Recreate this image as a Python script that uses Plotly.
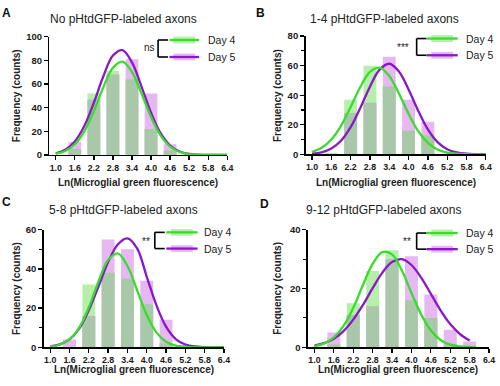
import plotly.graph_objects as go

# ---------------- data ----------------
bins = [1.0, 1.6, 2.2, 2.8, 3.4, 4.0, 4.6, 5.2, 5.8]
tick_vals = [1.0, 1.6, 2.2, 2.8, 3.4, 4.0, 4.6, 5.2, 5.8, 6.4]

A_day4 = [0, 5, 52, 71, 64, 22, 4, 0, 0]
A_day5 = [0, 11, 47, 68, 81, 52, 9, 1, 0]
B_day4 = [0, 1, 37, 60, 46, 16, 13, 0, 0]
B_day5 = [0, 0, 28, 35, 66, 37, 22, 0, 0]
C_day4 = [0, 0, 32, 38, 35, 22, 2, 0, 0]
C_day5 = [0, 4, 16, 55, 50, 34, 14, 1, 0]
D_day4 = [0, 1, 15, 26, 33, 16, 10, 1, 0]
D_day5 = [0, 5, 11, 14, 30, 31, 18, 6, 2]

fit_x = [1.0, 1.3, 1.6, 1.9, 2.2, 2.5, 2.8, 3.1, 3.4, 3.7,
         4.0, 4.3, 4.6, 4.9, 5.2, 5.5, 5.8, 6.1, 6.4]
fit_x_D4 = [1.0, 1.3, 1.6, 1.9, 2.2, 2.5, 2.8, 3.1, 3.4, 3.7,
            4.0, 4.3, 4.6, 4.9, 5.2, 5.5, 5.8, 6.0]
fit_x_D5 = [1.0, 1.3, 1.6, 1.9, 2.2, 2.5, 2.8, 3.1, 3.4, 3.7,
            4.0, 4.3, 4.6, 4.9, 5.2, 5.5, 5.8]

A_fit4 = [1.0, 3.4, 9.0, 20.0, 37.1, 57.4, 73.7, 78.9, 70.2, 52.0,
          32.1, 16.5, 7.0, 2.5, 0.7, 0.2, 0.0, 0.0, 0.0]
A_fit5 = [1.4, 4.4, 11.4, 24.5, 44.2, 66.6, 84.1, 88.7, 78.3, 57.8,
          35.7, 18.4, 8.0, 2.9, 0.9, 0.2, 0.0, 0.0, 0.0]
B_fit4 = [1.7, 4.4, 10.0, 19.3, 32.0, 45.6, 55.8, 58.7, 53.0, 41.2,
          27.5, 15.7, 7.8, 3.3, 1.2, 0.4, 0.1, 0.0, 0.0]
B_fit5 = [0.5, 1.4, 3.9, 9.2, 18.4, 31.4, 45.8, 57.3, 61.3, 56.1,
          43.9, 29.5, 16.9, 8.3, 3.5, 1.3, 0.4, 0.1, 0.0]
C_fit4 = [0.3, 1.3, 4.0, 10.0, 20.4, 33.6, 44.6, 47.9, 41.5, 29.1,
          16.5, 7.6, 2.8, 0.8, 0.2, 0.0, 0.0, 0.0, 0.0]
C_fit5 = [0.5, 1.5, 4.0, 9.5, 19.0, 31.0, 43.5, 52.5, 55.6, 50.5,
          36.0, 21.5, 10.5, 4.2, 1.4, 0.4, 0.1, 0.0, 0.0]
D_fit4 = [0.4, 1.3, 3.4, 7.3, 13.4, 21.2, 28.4, 32.4, 31.6, 26.2,
          18.5, 11.2, 5.7, 2.5, 0.9, 0.3, 0.1, 0.0]
D_fit5 = [0.6, 1.4, 2.9, 5.5, 9.4, 14.4, 20.1, 25.4, 29.0, 30.0,
          28.0, 23.7, 18.2, 12.6, 7.9, 4.5, 2.3]

titles = ["No pHtdGFP-labeled axons", "1-4 pHtdGFP-labeled axons",
          "5-8 pHtdGFP-labeled axons", "9-12 pHtdGFP-labeled axons"]
letters = ["A", "B", "C", "D"]
sig_labels = ["ns", "***", "**", "**"]
series_names = ["Day 4", "Day 5"]
x_title = "Ln(Microglial green fluorescence)"
y_title = "Frequency (counts)"

# ---------------- styles ----------------
W, H = 500, 386
FONT = "Liberation Sans, Arial, sans-serif"
GREEN_BAR = "#b5efa9"
PINK_BAR = "#e6b7f1"
OVERLAP = "#a9c8aa"
GREEN_LINE = "#36de2a"
PURPLE_LINE = "#8a18c8"


def px(x):
    return x / W


def py(y):
    return 1 - y / H


panels = [
    dict(d4=A_day4, d5=A_day5, f4=A_fit4, f5=A_fit5, fx4=fit_x, fx5=fit_x, ymax=100, minor=False,
         xdom=(50, 230), ydom=(153.3, 31.7), title=(125, 13.5), letter=(7, 7.5),
         xt=(140, 181.5), yt=(17.5, 92.5),
         br_x=160, br_y=(35, 52.5), sig=(151, 42.5), ln=(171.5, 201.5), txt=208),
    dict(d4=B_day4, d5=B_day5, f4=B_fit4, f5=B_fit5, fx4=fit_x, fx5=fit_x, ymax=80, minor=True,
         xdom=(309.3, 491.7), ydom=(152.7, 31), title=(389, 13.5), letter=(264, 7.5),
         xt=(400.5, 181.5), yt=(281.5, 92.5),
         br_x=421.7, br_y=(33.5, 50.7), sig=(408.3, 43), ln=(431.7, 463.3), txt=469.3),
    dict(d4=C_day4, d5=C_day5, f4=C_fit4, f5=C_fit5, fx4=fit_x, fx5=fit_x, ymax=60, minor=True,
         xdom=(44.3, 226.7), ydom=(351.3, 230.3), title=(125, 209.5), letter=(6.5, 202),
         xt=(136, 374.5), yt=(16.5, 291),
         br_x=156.7, br_y=(233, 249.7), sig=(147.7, 242), ln=(168.3, 200), txt=204),
    dict(d4=D_day4, d5=D_day5, f4=D_fit4, f5=D_fit5, fx4=fit_x_D4, fx5=fit_x_D5, ymax=40, minor=True,
         xdom=(311.7, 495), ydom=(351.3, 230.3), title=(388, 209.5), letter=(267.5, 203.5),
         xt=(402.5, 374.5), yt=(281.5, 291),
         br_x=421.7, br_y=(233.7, 250.3), sig=(412.3, 242.5), ln=(431.7, 463.3), txt=469.3),
]

fig = go.Figure()
annotations = []
shapes = []
layout_axes = {}

for i, p in enumerate(panels):
    n = "" if i == 0 else str(i + 1)
    xa, ya = "x" + n, "y" + n
    overlap = [min(a, b) for a, b in zip(p["d4"], p["d5"])]
    for vals, col in ((p["d4"], GREEN_BAR), (p["d5"], PINK_BAR), (overlap, OVERLAP)):
        fig.add_trace(go.Bar(x=bins, y=vals, width=0.4, marker=dict(color=col, line=dict(width=0)),
                             xaxis=xa, yaxis=ya, showlegend=False, hoverinfo="skip"))
    fig.add_trace(go.Scatter(x=p["fx5"], y=p["f5"], mode="lines",
                             line=dict(color=PURPLE_LINE, width=2.3, shape="spline"),
                             xaxis=xa, yaxis=ya, showlegend=False))
    fig.add_trace(go.Scatter(x=p["fx4"], y=p["f4"], mode="lines",
                             line=dict(color=GREEN_LINE, width=2.3, shape="spline"),
                             xaxis=xa, yaxis=ya, showlegend=False))

    layout_axes["xaxis" + n] = dict(
        domain=[px(p["xdom"][0]), px(p["xdom"][1])], anchor=ya, range=[0.8, 6.4],
        tickvals=tick_vals, ticktext=["%.1f" % v for v in tick_vals],
        ticks="outside", ticklen=4, tickwidth=1.3, tickcolor="black",
        showline=True, linecolor="black", linewidth=1.5, showgrid=False, zeroline=False,
        tickfont=dict(family=FONT, size=8.8, color="#1a1a1a", weight="bold"))
    yax = dict(
        domain=[py(p["ydom"][0]), py(p["ydom"][1])], anchor=xa, range=[0, p["ymax"]],
        dtick=20, ticks="outside", ticklen=4, tickwidth=1.3, tickcolor="black",
        showline=True, linecolor="black", linewidth=1.5, showgrid=False, zeroline=False,
        tickfont=dict(family=FONT, size=9.5, color="#1a1a1a", weight="bold"))
    if p["minor"]:
        yax["minor"] = dict(dtick=10, ticks="outside", ticklen=3, tickwidth=1.2,
                            tickcolor="black", showgrid=False)
    layout_axes["yaxis" + n] = yax

    # texts
    annotations.append(dict(text=titles[i], x=px(p["title"][0]), y=py(p["title"][1]),
                            xref="paper", yref="paper", showarrow=False,
                            font=dict(family=FONT, size=12, color="#222"),
                            xanchor="center", yanchor="middle"))
    annotations.append(dict(text="<b>%s</b>" % letters[i], x=px(p["letter"][0]), y=py(p["letter"][1]),
                            xref="paper", yref="paper", showarrow=False,
                            font=dict(family=FONT, size=12, color="#111"),
                            xanchor="center", yanchor="middle"))
    annotations.append(dict(text="<b>%s</b>" % x_title, x=px(p["xt"][0]), y=py(p["xt"][1]),
                            xref="paper", yref="paper", showarrow=False,
                            font=dict(family=FONT, size=10, color="#222"),
                            xanchor="center", yanchor="middle"))
    annotations.append(dict(text="<b>%s</b>" % y_title, x=px(p["yt"][0]), y=py(p["yt"][1]),
                            xref="paper", yref="paper", showarrow=False, textangle=-90,
                            font=dict(family=FONT, size=10, color="#222"),
                            xanchor="center", yanchor="middle"))
    # legend
    bx = p["br_x"]
    y1, y2 = p["br_y"]
    for (xa0, ya0, xa1, ya1) in ((bx, y1, bx, y2), (bx, y1, bx + 10, y1), (bx, y2, bx + 10, y2)):
        shapes.append(dict(type="line", xref="paper", yref="paper",
                           x0=px(xa0), y0=py(ya0), x1=px(xa1), y1=py(ya1),
                           line=dict(color="black", width=1.6)))
    annotations.append(dict(text=sig_labels[i], x=px(p["sig"][0]), y=py(p["sig"][1]),
                            xref="paper", yref="paper", showarrow=False,
                            font=dict(family=FONT, size=10, color="#222"),
                            xanchor="center", yanchor="middle"))
    l0, l1 = p["ln"]
    mid = (l0 + l1) / 2
    for yy, bcol, lcol, name in ((y1, GREEN_BAR, GREEN_LINE, series_names[0]),
                                 (y2, PINK_BAR, PURPLE_LINE, series_names[1])):
        shapes.append(dict(type="rect", xref="paper", yref="paper",
                           x0=px(mid - 11), x1=px(mid + 11), y0=py(yy + 3.5), y1=py(yy - 3.5),
                           fillcolor=bcol, line=dict(width=0)))
        shapes.append(dict(type="line", xref="paper", yref="paper",
                           x0=px(l0), x1=px(l1), y0=py(yy), y1=py(yy),
                           line=dict(color=lcol, width=2.3)))
        annotations.append(dict(text=name, x=px(p["txt"]), y=py(yy),
                                xref="paper", yref="paper", showarrow=False,
                                font=dict(family=FONT, size=10.5, color="#222"),
                                xanchor="left", yanchor="middle"))

fig.update_layout(
    width=W, height=H, margin=dict(l=0, r=0, t=0, b=0),
    paper_bgcolor="white", plot_bgcolor="white",
    barmode="overlay", showlegend=False, hovermode=False,
    annotations=annotations, shapes=shapes,
    font=dict(family=FONT),
    **layout_axes,
)

fig.write_html("out.html", config={"displayModeBar": False, "staticPlot": True},
               post_script="document.body.style.margin='0px';document.body.style.overflow='hidden';")
